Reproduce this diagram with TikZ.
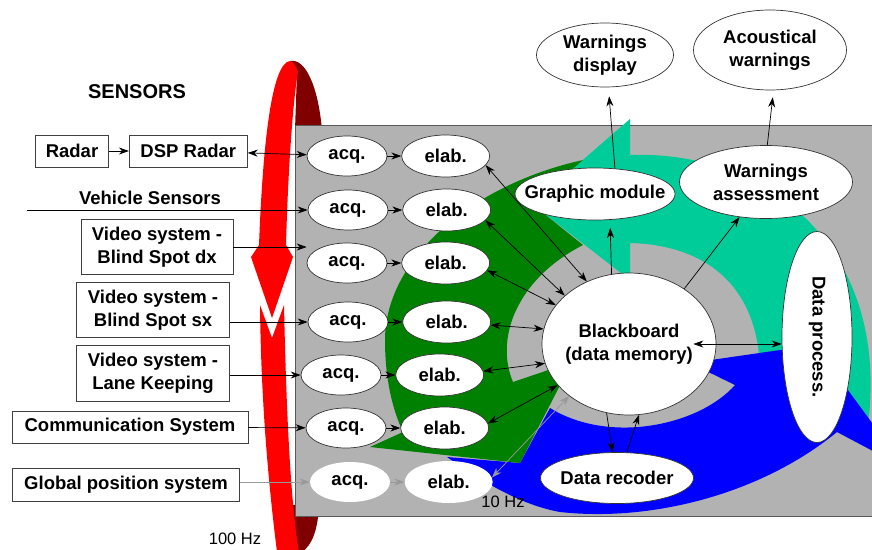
\documentclass[tikz,border=0pt]{standalone}
\usepackage{fontspec}
\setmainfont{Liberation Sans}
\usepackage{graphicx}
\usetikzlibrary{shapes.geometric, arrows.meta, positioning}
\definecolor{panelgray}{RGB}{178,178,178}
\definecolor{loopred}{RGB}{255,0,0}
\definecolor{loopdark}{RGB}{128,0,0}
\definecolor{flowgreen}{RGB}{0,128,0}
\definecolor{flowteal}{RGB}{0,204,153}
\definecolor{flowblue}{RGB}{0,0,255}
\tikzstyle{sensor} = [rectangle, draw=black!75, fill=white, line width=0.8pt, minimum height=32pt, align=center, inner sep=2pt]
\tikzstyle{task} = [ellipse, draw=black!80, fill=white, line width=0.7pt, inner sep=0pt, align=center]
\tikzstyle{acqstep} = [task, minimum width=80pt, minimum height=40pt]
\tikzstyle{elabstep} = [task, minimum width=88pt, minimum height=42pt]
\tikzstyle{arrow} = [line width=0.7pt, ->, >={Stealth[length=10pt, width=7pt]}]
\tikzstyle{darrow} = [line width=0.7pt, <->, >={Stealth[length=10pt, width=7pt]}]
\tikzstyle{faint} = [color=black!40]
\begin{document}
\begin{tikzpicture}[x=1pt, y=-1pt, node distance=14pt, every node/.style={font=\bfseries\fontsize{18.5}{23}\selectfont}]

\useasboundingbox (0,0) rectangle (872,549);

% Loop (back part)
\fill[loopdark] (290,61) .. controls (305,58) and (318,85) .. (322,130) -- (295,130) -- (297,72) -- cycle;
\fill[loopdark] (292,505) -- (319,505) .. controls (318,530) and (312,545) .. (302,552) -- (292,552) -- cycle;

% Panel
\draw[draw=black!65, fill=panelgray, line width=0.8pt] (295,125) rectangle (880,516);

% Loop (front part)
\fill[loopred] (290,61) .. controls (272,63) and (263,140) .. (259,245) -- (251,257) -- (272,318) -- (293,257) -- (286,245) .. controls (288,170) and (293,100) .. (298,72) .. controls (296,66) and (294,62) .. (290,61) -- cycle;
\fill[loopred] (260,305) -- (272,338) -- (284,305) .. controls (286,400) and (290,500) .. (299,552) -- (277,552) .. controls (268,480) and (261,400) .. (260,305) -- cycle;

% Processing cycle
\fill[flowteal] (532,204) -- (630,119) -- (630,155) .. controls (770,150) and (890,250) .. (868,425) -- (760,380) .. controls (762,290) and (710,245) .. (630,243) -- (630,280) -- cycle;
\fill[flowblue] (447,457) -- (520,463) -- (550,408) .. controls (610,445) and (700,425) .. (735,385) -- (690,363) -- (815,345) -- (905,468) -- (837,432) .. controls (760,495) and (650,522) .. (560,512) .. controls (520,505) and (480,480) .. (447,457) -- cycle;
\fill[flowgreen] (370,447) -- (520,463) -- (572,362) -- (513,382) .. controls (495,340) and (515,280) .. (583,245) -- (532,204) -- (583,160) .. controls (470,185) and (385,260) .. (385,340) .. controls (385,385) and (395,415) .. (403,432) -- cycle;

% Sensors
\node (title) at (137,92) [font=\bfseries\fontsize{20}{24}\selectfont] {SENSORS};
\node (radar) [sensor, minimum width=73pt] at (72,151) {Radar};
\node (dsp) [sensor, minimum width=118pt, right=20pt of radar] {DSP Radar};
\node (vehicle) [inner sep=0pt] at (150,198) {Vehicle Sensors};
\coordinate (vline) at (27,210);
\node (vsdx) [sensor, minimum width=152pt, minimum height=55pt] at (157,247) {Video system -\\Blind Spot dx};
\node (vssx) [sensor, minimum width=153pt, minimum height=55pt] at (153,310) {Video system -\\Blind Spot sx};
\node (vslk) [sensor, minimum width=153pt, minimum height=56pt] at (153,373) {Video system -\\Lane Keeping};
\node (comm) [sensor, minimum width=236pt] at (130,427) {Communication System};
\node (gps) [sensor, minimum width=227pt, minimum height=33pt] at (126,485) {Global position system};

% Acquisition and elaboration
\node (acq1) [acqstep] at (347,156) {acq.};
\node (elab1) [elabstep, right=of acq1] {elab.};
\node (acq2) [acqstep] at (348,210) {acq.};
\node (elab2) [elabstep, right=of acq2] {elab.};
\node (acq3) [acqstep] at (347,263) {acq.};
\node (elab3) [elabstep, right=of acq3] {elab.};
\node (acq4) [acqstep] at (348,322) {acq.};
\node (elab4) [elabstep, right=of acq4] {elab.};
\node (acq5) [acqstep] at (341,375) {acq.};
\node (elab5) [elabstep, right=of acq5] {elab.};
\node (acq6) [acqstep] at (346,428) {acq.};
\node (elab6) [elabstep, right=of acq6] {elab.};
\node (acq7) [acqstep, draw=none] at (350,482) {acq.};
\node (elab7) [elabstep, draw=none, right=of acq7] {elab.};

% Blackboard and modules
\node (bb) [task, minimum width=174pt, minimum height=142pt, inner xsep=-5pt] at (629,344) {Blackboard\\(data memory)};
\node (gm) [task, minimum width=160pt, minimum height=52pt, inner xsep=-15pt] at (595,194) {Graphic module};
\node (wa) [task, minimum width=173pt, minimum height=73pt] at (766,182) {Warnings\\assessment};
\node (wd) [task, minimum width=137pt, minimum height=64pt] at (605,55) {Warnings\\display};
\node (aw) [task, minimum width=153pt, minimum height=80pt] at (770,50) {Acoustical\\warnings};
\node (dp) [task, minimum width=70pt, minimum height=211pt] at (817,337) {\rotatebox{-90}{Data process.}};
\node (dr) [task, minimum width=153pt, minimum height=51pt, inner xsep=-5pt] at (617,478) {Data recoder};

% Rates
\node (hz100) at (235,539) [font=\fontsize{16.5}{18}\selectfont] {100 Hz};
\node (hz10) at (503,502) [font=\fontsize{16.5}{18}\selectfont] {10 Hz};

% Inputs
\draw[arrow] (radar) -- (dsp);
\draw[darrow] (dsp) -- (acq1);
\draw[arrow] (vline) -- (acq2);
\draw[arrow] (vsdx.east) -- (acq3.west |- vsdx.east);
\draw[arrow] (vssx.east |- acq4.west) -- (acq4.west);
\draw[arrow] (vslk.east |- acq5.west) -- (acq5.west);
\draw[arrow] (comm) -- (acq6);
\draw[arrow, faint] (gps.east |- acq7.west) -- (acq7.west);

\draw[arrow] (acq1) -- (elab1);
\draw[arrow] (acq2) -- (elab2);
\draw[arrow] (acq3) -- (elab3);
\draw[arrow] (acq4) -- (elab4);
\draw[arrow] (acq5) -- (elab5);
\draw[arrow] (acq6) -- (elab6);
\draw[arrow, faint] (acq7) -- (elab7);

% Blackboard links
\draw[darrow] (elab1.-13) -- (bb.124);
\draw[darrow] (elab2.-15) -- (bb.143);
\draw[darrow] (elab3.-10) -- (bb.152);
\draw[darrow] (elab4.-4) -- (bb.170);
\draw[darrow] (elab5.5) -- (bb.193);
\draw[darrow] (elab6.6) -- (bb.210);
\draw[darrow, faint] (elab7.6) -- (bb.221);

% Outputs
\draw[arrow, shorten >=9pt] (gm.52) -- (wd.-84);
\draw[arrow, shorten >=7pt] (wa.88) -- (aw.-85);
\draw[arrow, shorten >=8pt] (bb.104) -- (gm.-60);
\draw[arrow] (bb.45) -- (wa.233);
\draw[darrow] ([xshift=-23pt]bb.east) -- (dp.west |- bb.east);
\draw[arrow] (bb.252) -- (dr.100);
\draw[arrow] (dr.69) -- (bb.278);

\end{tikzpicture}
\end{document}
